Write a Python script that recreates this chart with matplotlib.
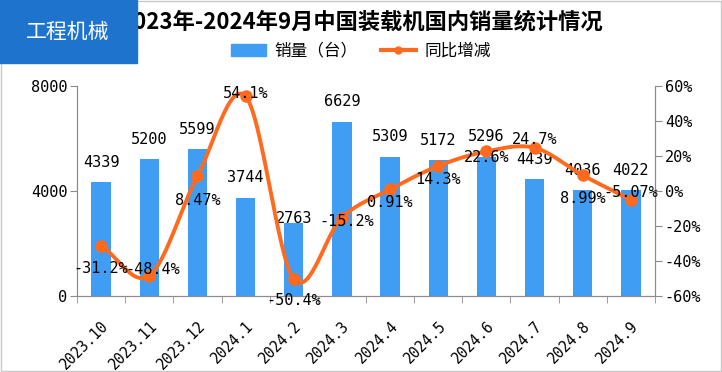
import numpy as np
import matplotlib
matplotlib.use("Agg")
import matplotlib.pyplot as plt
from matplotlib.patches import Rectangle, Patch
from matplotlib.lines import Line2D

plt.rcParams['font.family'] = ['Noto Sans CJK SC', 'DejaVu Sans']

# 数据
months = ['2023.10', '2023.11', '2023.12', '2024.1', '2024.2', '2024.3',
          '2024.4', '2024.5', '2024.6', '2024.7', '2024.8', '2024.9']
sales = [4339, 5200, 5599, 3744, 2763, 6629, 5309, 5172, 5296, 4439, 4036, 4022]
yoy = [-31.2, -48.4, 8.47, 54.1, -50.4, -15.2, 0.91, 14.3, 22.6, 24.7, 8.99, -5.07]
yoy_text = ['-31.2%', '-48.4%', '8.47%', '54.1%', '-50.4%', '-15.2%',
            '0.91%', '14.3%', '22.6%', '24.7%', '8.99%', '-5.07%']

# 标签偏移(像素)
bar_dy = [20, 20, 20, 20, 5, 20, 20, 20, 20, 20, 20, 20]
pct_dx = [0, 3, 0, 0, 0, 5, 0, 0, 0, 0, 0, 0]
pct_dy = [-23, 6, -24, 3, -21, -4, -13, -14, -6, 8, -23, 7]

blue = '#3F9DF3'
orange = '#FF6A1F'
gray = '#8C8C8C'
mono = 'DejaVu Sans Mono'


def catmull_rom(x, y, n=30):
    # 平滑曲线
    px = np.concatenate([[2 * x[0] - x[1]], x, [2 * x[-1] - x[-2]]])
    py = np.concatenate([[2 * y[0] - y[1]], y, [2 * y[-1] - y[-2]]])
    xs, ys = [], []
    t = np.linspace(0, 1, n)
    for i in range(1, len(px) - 2):
        for p, out in ((px, xs), (py, ys)):
            p0, p1, p2, p3 = p[i - 1], p[i], p[i + 1], p[i + 2]
            out.extend(0.5 * (2 * p1 + (-p0 + p2) * t
                              + (2 * p0 - 5 * p1 + 4 * p2 - p3) * t ** 2
                              + (-p0 + 3 * p1 - 3 * p2 + p3) * t ** 3))
    return np.array(xs), np.array(ys)


fig = plt.figure(figsize=(7.22, 3.72), dpi=100)
ax = fig.add_axes([77 / 722, 1 - 296 / 372, (655 - 77) / 722, 210 / 372])
ax2 = ax.twinx()

x = np.arange(len(months))
ax.bar(x, sales, width=0.4, color=blue, zorder=2)
ax.set_xlim(-0.5, len(months) - 0.5)
ax.set_ylim(0, 8000)
ax.set_yticks([0, 4000, 8000])
ax.set_yticklabels(['0', '4000', '8000'], fontsize=11, family=mono)
ax.set_xticks(x)
ax.set_xticklabels(months, rotation=45, ha='right', va='top', fontsize=10.5,
                   family=mono, rotation_mode='anchor')
ax.set_xticks(np.arange(-0.5, len(months)), minor=True)
ax.tick_params(axis='x', which='major', length=0, pad=16)
ax.tick_params(axis='x', which='minor', length=5, color=gray)
ax.tick_params(axis='y', length=5, color=gray, pad=2)

sx, sy = catmull_rom(x.astype(float), np.array(yoy))
ax2.plot(sx, sy, color=orange, lw=2.8, zorder=3)
ax2.plot(x, yoy, 'o', color=orange, ms=8, zorder=4)
ax2.set_ylim(-60, 60)
ax2.set_yticks(range(-60, 61, 20))
ax2.set_yticklabels([f'{v}%' for v in range(-60, 61, 20)], fontsize=11, family=mono)
ax2.tick_params(axis='y', length=5, color=gray, pad=2)

for a in (ax, ax2):
    a.spines['top'].set_visible(False)
    for s in ('left', 'right', 'bottom'):
        a.spines[s].set_color(gray)

for i, v in enumerate(sales):
    ax.annotate(str(v), (x[i], v), xytext=(0, bar_dy[i] * 0.72), textcoords='offset points',
                ha='center', va='center', fontsize=11, family=mono)
for i, v in enumerate(yoy):
    ax2.annotate(yoy_text[i], (x[i], v), xytext=(pct_dx[i] * 0.72, pct_dy[i] * 0.72),
                 textcoords='offset points', ha='center', va='center',
                 fontsize=11, family=mono, zorder=5)

fig.text(0.5, 1 - 22 / 372, '2023年-2024年9月中国装载机国内销量统计情况',
         ha='center', va='center', fontsize=16, fontweight='bold')

handles = [Patch(color=blue), Line2D([], [], color=orange, lw=3, marker='o', ms=5)]
fig.legend(handles, ['销量（台）', '同比增减'], loc='center', ncol=2,
           bbox_to_anchor=(0.5, 1 - 51 / 372), frameon=False, fontsize=12,
           handlelength=2.1, columnspacing=1.4, handletextpad=0.5)

# 左上角标签
fig.patches.append(Rectangle((0, 1 - 63 / 372), 137 / 722, 63 / 372,
                             transform=fig.transFigure, color='#1E74CC', zorder=5))
fig.text(68 / 722, 1 - 32 / 372, '工程机械', color='white', fontsize=15,
         ha='center', va='center', zorder=6)
# 外框
fig.patches.append(Rectangle((0.001, 0.003), 0.997, 0.994, transform=fig.transFigure,
                             fill=False, edgecolor='#C8C8C8', lw=1))

fig.savefig('out.png', dpi=100)
